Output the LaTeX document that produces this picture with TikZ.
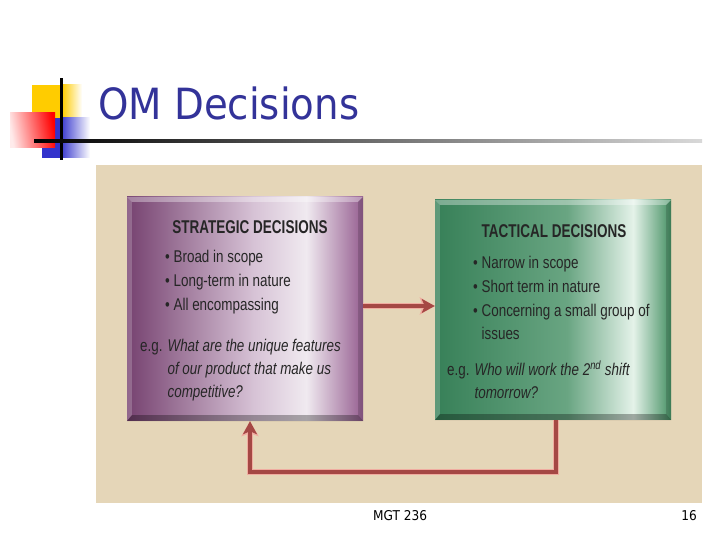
\documentclass[tikz,border=0pt]{standalone}
\usepackage{fontspec}
\setmainfont{Liberation Sans}
\newfontfamily\slidefont[FakeStretch=0.9]{DejaVu Sans}
\newfontfamily\narrowfont[FakeStretch=0.79]{Liberation Sans}
\newfontfamily\narrowheadfont[FakeStretch=0.73]{Liberation Sans}
\usetikzlibrary{calc}
\usetikzlibrary{positioning}
\usetikzlibrary{arrows.meta}

\definecolor{panelBeige}{RGB}{229,214,184}
\definecolor{titleBlue}{RGB}{51,51,153}
\definecolor{decoYellow}{RGB}{255,204,0}
\definecolor{decoBlue}{RGB}{51,51,204}
\definecolor{purpDark}{RGB}{118,66,112}
\definecolor{purpMid}{RGB}{150,95,145}
\definecolor{purpLight}{RGB}{215,195,214}
\definecolor{purpWhite}{RGB}{240,234,240}
\definecolor{greenDark}{RGB}{55,128,88}
\definecolor{greenMid}{RGB}{105,165,130}
\definecolor{greenWhite}{RGB}{228,242,233}
\definecolor{greenEdge}{RGB}{70,145,100}
\definecolor{arrowRed}{RGB}{165,72,68}
\definecolor{haloPink}{RGB}{240,172,160}

\pgfdeclarehorizontalshading{stratShade}{100bp}{color(0bp)=(purpDark); color(25bp)=(purpDark); color(52bp)=(purpLight); color(63bp)=(purpWhite); color(75bp)=(purpMid); color(100bp)=(purpMid)}
\pgfdeclarehorizontalshading{tactShade}{100bp}{color(0bp)=(greenDark); color(25bp)=(greenDark); color(53bp)=(greenMid); color(67bp)=(greenWhite); color(75bp)=(greenEdge); color(100bp)=(greenEdge)}

% bevelled rim round a box
\newcommand\bevelbox[1]{
	\fill[white, opacity=0.35] (#1.north west) -- (#1.north east) -- ++(-5,-5) -- ($(#1.north west)+(5,-5)$) -- cycle;
	\fill[white, opacity=0.2] (#1.north west) -- ($(#1.north west)+(5,-5)$) -- ($(#1.south west)+(5,6)$) -- (#1.south west) -- cycle;
	\fill[black, opacity=0.3] (#1.south west) -- (#1.south east) -- ++(-5,6) -- ($(#1.south west)+(5,6)$) -- cycle;
	\fill[black, opacity=0.15] (#1.north east) -- (#1.south east) -- ++(-5,6) -- ($(#1.north east)+(-5,-5)$) -- cycle;
}

\begin{document}
\begin{tikzpicture}[x=1pt, y=1pt,
	decisionBox/.style={rectangle, minimum width=236pt, inner sep=0pt},
	boxHead/.style={anchor=base, inner sep=0pt, font=\narrowheadfont\fontsize{18.5}{20}\selectfont\bfseries, text=black!85},
	boxLine/.style={anchor=base west, inner sep=0pt, font=\narrowfont\fontsize{17}{20}\selectfont, text=black!85},
	flow/.style={draw=arrowRed, line width=4pt, -{Stealth[length=13pt, width=14pt, inset=3pt]},
		preaction={draw=haloPink, line width=6.5pt, -{Stealth[length=15pt, width=17pt, inset=3pt]}}}]
	\useasboundingbox (0,0) rectangle (720,540);

	% Slide decoration
	\fill[decoYellow] (32,422) rectangle (62,455);
	\shade[left color=decoYellow, right color=white] (62,422) rectangle (82,455);
	\fill[decoBlue] (42,382) rectangle (60,422);
	\shade[left color=decoBlue, right color=white] (60,382) rectangle (90,422);
	\shade[left color=red!8, right color=red, shading angle=100] (10,392) rectangle (55,427);
	\fill[black] (59.5,380) rectangle (62.5,462);
	\shade[left color=black, right color=black!15] (34,397.5) rectangle (702,400.5);

	% Slide title
	\node[anchor=base west, inner sep=0pt, text=titleBlue, font=\slidefont\fontsize{43}{46}\selectfont] (slideTitle) at (98,420) {OM Decisions};

	% Background panel
	\fill[panelBeige] (96,37) rectangle (702,375);

	% Boxes
	\node[decisionBox, minimum height=224pt, shading=stratShade] (strat) at (245,231) {};
	\node[decisionBox, minimum height=220pt, shading=tactShade] (tact) at (553,230) {};
	\bevelbox{strat}
	\bevelbox{tact}

	% Strategic text
	\node[boxHead] (stratHead) at (250,306) {STRATEGIC DECISIONS};
	\node[boxLine] (strat1) at (165,277) {\textbullet\ Broad in scope};
	\node[boxLine] (strat2) at (165,253) {\textbullet\ Long-term in nature};
	\node[boxLine] (strat3) at (165,229) {\textbullet\ All encompassing};
	\node[boxLine] (stratEg1) at (140,188) {e.g. \textit{What are the unique features}};
	\node[boxLine] (stratEg2) at (140,165) {\phantom{e.g. }\textit{of our product that make us}};
	\node[boxLine] (stratEg3) at (140,142) {\phantom{e.g. }\textit{competitive?}};

	% Tactical text
	\node[boxHead] (tactHead) at (554,302) {TACTICAL DECISIONS};
	\node[boxLine] (tact1) at (473,271) {\textbullet\ Narrow in scope};
	\node[boxLine] (tact2) at (473,247) {\textbullet\ Short term in nature};
	\node[boxLine] (tact3) at (473,223) {\textbullet\ Concerning a small group of};
	\node[boxLine] (tact4) at (473,200) {\phantom{\textbullet\ }issues};
	\node[boxLine] (tactEg1) at (447,164) {e.g. \textit{Who will work the 2\textsuperscript{nd} shift}};
	\node[boxLine] (tactEg2) at (447,141) {\phantom{e.g. }\textit{tomorrow?}};

	% Connectors
	\draw[flow] ([yshift=3]strat.east) -- ([yshift=3]strat.east -| tact.west);
	\draw[flow] ([xshift=3]tact.south) -- ++(0,-52) -| ([xshift=5]strat.south);

	% Footer
	\node[anchor=base west, inner sep=0pt, font=\slidefont\fontsize{13.5}{15}\selectfont] (footer) at (373,19) {MGT 236};
	\node[anchor=base east, inner sep=0pt, font=\slidefont\fontsize{13.5}{15}\selectfont] (pageNo) at (697,19) {16};
\end{tikzpicture}
\end{document}
